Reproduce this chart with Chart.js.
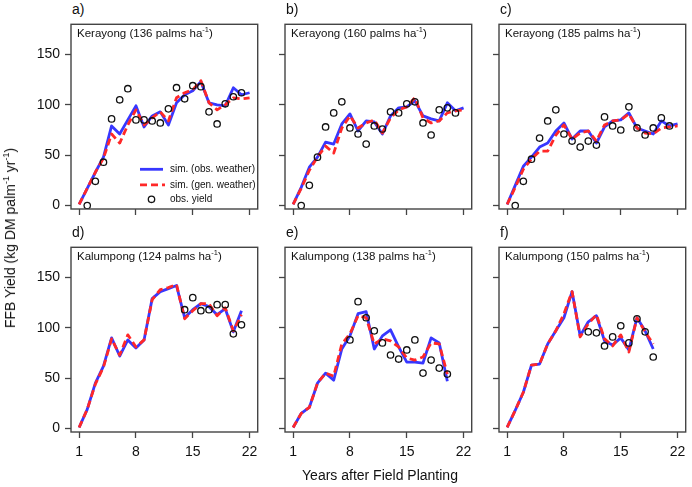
<!DOCTYPE html>
<html>
<head>
<meta charset="utf-8">
<script src="https://cdn.jsdelivr.net/npm/chart.js@4.4.0/dist/chart.umd.min.js"></script>
<style>
  body { margin: 0; background: #fff; width: 692px; height: 487px; position: relative; overflow: hidden;
         font-family: "Liberation Sans", Arial, sans-serif; color: #111; }
  canvas { position: absolute; }
  .lab { position: absolute; font-size: 14px; line-height: 14px; }
  .ttl { position: absolute; font-size: 11.5px; line-height: 12px; white-space: nowrap; }
  .ttl sup { font-size: 7.5px; vertical-align: 5px; line-height: 0; }
  .ax { position: absolute; font-size: 14px; line-height: 16px; white-space: nowrap; }
  .ax sup { font-size: 9px; vertical-align: 6px; line-height: 0; }
</style>
</head>
<body>
<script>
// tick labels
var xTicks = [1, 8, 15, 22];
var yTicks = [0, 50, 100, 150];

// a) Kerayong 136 palms/ha (years 1..22)
var simObsA = [1, 17, 33, 48, 79, 71, 85, 99, 78, 89, 93, 80, 102, 110, 114, 123, 102, 100, 99, 117, 110, 112];
var simGenA = [1, 17, 33, 47, 71, 62, 80, 95, 80, 87, 93, 84, 107, 112, 115, 124, 102, 95, 100, 107, 106, 107];
var obsA = [null, 0, 24, 43, 86, 105, 116, 85, 85, 84, 82, 96, 117, 106, 119, 118, 93, 81, 101, 108, 112, null];

// b) Kerayong 160
var simObsB = [1, 18, 38, 48, 63, 61, 81, 91, 74, 84, 83, 71, 89, 97, 98, 104, 89, 86, 84, 102, 94, 97];
var simGenB = [1, 17, 35, 48, 59, 52, 77, 89, 77, 82, 85, 72, 87, 95, 98, 107, 87, 82, 84, 92, 94, 95];
var obsB = [null, 0, 20, 48, 78, 92, 103, 77, 71, 61, 79, 76, 93, 92, 101, 103, 82, 70, 95, 97, 92, null];

// c) Kerayong 185
var simObsC = [1, 20, 39, 48, 58, 62, 74, 82, 66, 74, 74, 62, 78, 84, 85, 92, 77, 74, 71, 84, 79, 81];
var simGenC = [1, 18, 36, 46, 54, 54, 70, 80, 66, 72, 74, 64, 80, 84, 85, 91, 77, 72, 71, 77, 78, 79];
var obsC = [null, 0, 24, 46, 67, 84, 95, 71, 64, 58, 64, 60, 88, 79, 75, 98, 77, 70, 77, 87, 79, null];

// d) Kalumpong 124
var simObsD = [1, 19, 45, 62, 90, 72, 88, 80, 88, 129, 136, 139, 142, 110, 118, 124, 121, 113, 119, 96, 117];
var simGenD = [1, 19, 44, 61, 89, 73, 93, 81, 88, 128, 138, 140, 143, 109, 117, 124, 124, 112, 120, 97, 113];
var obsD = [null, null, null, null, null, null, null, null, null, null, null, null, null, 118, 130, 117, 118, 123, 123, 94, 103];

// e) Kalumpong 138
var simObsE = [1, 15, 21, 45, 55, 48, 79, 92, 114, 116, 79, 92, 98, 81, 66, 66, 65, 90, 85, 47];
var simGenE = [1, 15, 21, 45, 55, 52, 84, 94, 112, 110, 84, 89, 87, 81, 70, 68, 71, 85, 84, 54];
var obsE = [null, null, null, null, null, null, null, 88, 126, 110, 97, 85, 73, 69, 78, 88, 55, 68, 60, 54];

// f) Kalumpong 150
var simObsF = [1, 18, 36, 63, 64, 84, 97, 110, 136, 92, 106, 112, 87, 83, 90, 78, 110, 97, 79];
var simGenF = [1, 18, 36, 63, 64, 84, 97, 114, 136, 91, 104, 113, 89, 82, 93, 76, 110, 96, 84];
var obsF = [null, null, null, null, null, null, null, null, null, null, 96, 95, 82, 91, 102, 85, 109, 96, 71];

var FONT = "'Liberation Sans', Arial, sans-serif";
var FW = 189, FH = 188, LEFTM = 70, BOTM = 30, PADT = 2, PADR = 3;

var panels = [
  { letter: "a)", site: "Kerayong", dens: 136, left: 71,  top: 21,  sim: simObsA, gen: simGenA, obs: obsA, leftAxis: true,  bottom: false, legend: true },
  { letter: "b)", site: "Kerayong", dens: 160, left: 285, top: 21,  sim: simObsB, gen: simGenB, obs: obsB, leftAxis: false, bottom: false },
  { letter: "c)", site: "Kerayong", dens: 185, left: 499, top: 21,  sim: simObsC, gen: simGenC, obs: obsC, leftAxis: false, bottom: false },
  { letter: "d)", site: "Kalumpong", dens: 124, left: 71,  top: 244, sim: simObsD, gen: simGenD, obs: obsD, leftAxis: true,  bottom: true },
  { letter: "e)", site: "Kalumpong", dens: 138, left: 285, top: 244, sim: simObsE, gen: simGenE, obs: obsE, leftAxis: false, bottom: true },
  { letter: "f)", site: "Kalumpong", dens: 150, left: 499, top: 244, sim: simObsF, gen: simGenF, obs: obsF, leftAxis: false, bottom: true }
];

var BLUE = "rgb(55,55,255)";
var RED = "rgb(255,40,40)";

function toPoints(arr) {
  var pts = [];
  arr.forEach(function(v, i) {
    if (v !== null) pts.push({ x: i + 1, y: v });
  });
  return pts;
}

// box round the plot area
var framePlugin = {
  id: "frame",
  afterDraw: function(chart) {
    var a = chart.chartArea, ctx = chart.ctx;
    ctx.save();
    ctx.strokeStyle = "#444";
    ctx.lineWidth = 1.4;
    ctx.strokeRect(a.left, a.top, a.right - a.left, a.bottom - a.top);
    ctx.restore();
  }
};

// legend inside panel a
var legendPlugin = {
  id: "innerLegend",
  afterDraw: function(chart) {
    var a = chart.chartArea, ctx = chart.ctx;
    var x0 = a.left + 69, x1 = a.left + 92, tx = a.left + 99;
    var rows = [a.top + 145, a.top + 160.5, a.top + 175];
    ctx.save();
    ctx.lineWidth = 2.8;
    ctx.strokeStyle = BLUE;
    ctx.beginPath(); ctx.moveTo(x0, rows[0]); ctx.lineTo(x1, rows[0]); ctx.stroke();
    ctx.strokeStyle = RED;
    ctx.setLineDash([7, 4]);
    ctx.beginPath(); ctx.moveTo(x0, rows[1]); ctx.lineTo(x1 + 2, rows[1]); ctx.stroke();
    ctx.setLineDash([]);
    ctx.strokeStyle = "#111";
    ctx.lineWidth = 1.3;
    ctx.beginPath(); ctx.arc((x0 + x1) / 2, rows[2], 3.2, 0, Math.PI * 2); ctx.stroke();
    ctx.fillStyle = "#111";
    ctx.font = "10px " + FONT;
    ctx.textBaseline = "middle";
    ctx.fillText("sim. (obs. weather)", tx, rows[0]);
    ctx.fillText("sim. (gen. weather)", tx, rows[1]);
    ctx.fillText("obs. yield", tx, rows[2]);
    ctx.restore();
  }
};

function addDiv(cls, html, left, top) {
  var d = document.createElement("div");
  d.className = cls;
  d.innerHTML = html;
  d.style.left = left + "px";
  d.style.top = top + "px";
  document.body.appendChild(d);
  return d;
}

// keep plot area fixed: no extra label padding
function noPad(s) {
  s.paddingTop = 0; s.paddingBottom = 0; s.paddingLeft = 0; s.paddingRight = 0;
}

panels.forEach(function(p) {
  var cv = document.createElement("canvas");
  cv.width = LEFTM + FW + PADR;
  cv.height = PADT + FH + BOTM;
  cv.style.left = (p.left - LEFTM) + "px";
  cv.style.top = (p.top - PADT) + "px";
  document.body.appendChild(cv);

  var plugins = [framePlugin];
  if (p.legend) plugins.push(legendPlugin);

  new Chart(cv.getContext("2d"), {
    type: "line",
    data: {
      datasets: [
        { data: toPoints(p.obs), showLine: false, borderColor: "#111", backgroundColor: "rgba(0,0,0,0)",
          pointRadius: 3.2, pointBorderWidth: 1.3, pointBackgroundColor: "rgba(0,0,0,0)", order: 0 },
        { data: toPoints(p.gen), borderColor: RED, borderWidth: 2.8, borderDash: [7, 4], pointRadius: 0,
          tension: 0, fill: false, borderJoinStyle: "round", order: 1 },
        { data: toPoints(p.sim), borderColor: BLUE, borderWidth: 2.8, pointRadius: 0,
          tension: 0, fill: false, borderJoinStyle: "round", order: 2 }
      ]
    },
    options: {
      responsive: false,
      animation: false,
      devicePixelRatio: 1,
      layout: { padding: { top: PADT, right: PADR, left: 0, bottom: 0 } },
      plugins: { legend: { display: false }, tooltip: { enabled: false } },
      scales: {
        x: {
          type: "linear", min: 0, max: 23,
          afterBuildTicks: function(s) { s.ticks = xTicks.map(function(v) { return { value: v }; }); },
          afterFit: function(s) { s.height = BOTM; noPad(s); },
          grid: { drawOnChartArea: false, drawTicks: true, tickLength: 6, tickWidth: 1.3, tickColor: "#444" },
          border: { display: false },
          ticks: { autoSkip: false, maxRotation: 0, padding: 6, color: "#111", font: { size: 14, family: FONT },
                   callback: function(v) { return p.bottom ? String(v) : ""; } }
        },
        y: {
          type: "linear", min: -3.5, max: 180,
          afterBuildTicks: function(s) { s.ticks = yTicks.map(function(v) { return { value: v }; }); },
          afterFit: function(s) { s.width = LEFTM; noPad(s); },
          grid: { drawOnChartArea: false, drawTicks: true, tickLength: 6, tickWidth: 1.3, tickColor: "#444" },
          border: { display: false },
          ticks: { autoSkip: false, padding: 5, color: "#111", font: { size: 14, family: FONT },
                   callback: function(v) { return p.leftAxis ? String(v) : ""; } }
        }
      }
    },
    plugins: plugins
  });

  addDiv("lab", p.letter, p.left + 1, p.top - 19);
  addDiv("ttl", p.site + " (" + p.dens + " palms ha<sup>-1</sup>)", p.left + 6, p.top + 6);
});

addDiv("ax", "Years after Field Planting", 0, 467).style.cssText += "left:380px;transform:translateX(-50%);";
var yt = addDiv("ax", "FFB Yield (kg DM palm<sup>-1</sup> yr<sup>-1</sup>)", 10, 238);
yt.style.transform = "translate(-50%,-50%) rotate(-90deg)";
</script>
</body>
</html>
